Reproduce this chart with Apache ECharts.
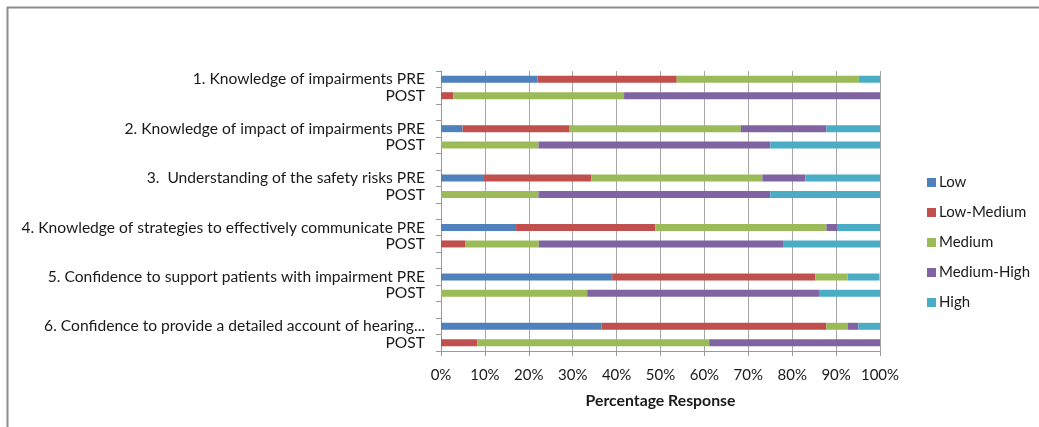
<!DOCTYPE html>
<html>
<head>
<meta charset="utf-8">
<script src="https://cdn.jsdelivr.net/npm/echarts@6/dist/echarts.min.js"></script>
<style>
html,body{margin:0;padding:0;background:#fff;}
#chart{width:1039px;height:427px;}
</style>
</head>
<body>
<div id="chart"></div>
<script>
// Questions (each has a PRE row and a POST row)
const questions = [
  "1. Knowledge of impairments PRE",
  "2. Knowledge of impact of impairments PRE",
  "3.  Understanding of the safety risks PRE",
  "4. Knowledge of strategies to effectively communicate PRE",
  "5. Confidence to support patients with impairment PRE",
  "6. Confidence to provide a detailed account of hearing..."
];
const postLabel = "POST";
const seriesNames = ["Low", "Low-Medium", "Medium", "Medium-High", "High"];
// Values in % for rows: Q1 PRE, Q1 POST, Q2 PRE, Q2 POST, ... Q6 PRE, Q6 POST
const low        = [22.0, 0,    4.9,  0,    9.8,  0,    17.1, 0,    39.0, 0,    36.6, 0];
const lowMedium  = [31.7, 2.8,  24.4, 0,    24.4, 0,    31.7, 5.6,  46.3, 0,    51.2, 8.3];
const medium     = [41.5, 38.9, 39.0, 22.2, 39.0, 22.2, 39.0, 16.7, 7.3,  33.3, 4.9,  52.8];
const mediumHigh = [0,    58.3, 19.5, 52.8, 9.8,  52.8, 2.4,  55.6, 0,    52.8, 2.4,  38.9];
const high       = [4.9,  0,    12.2, 25.0, 17.1, 25.0, 9.8,  22.2, 7.3,  13.9, 4.9,  0];
const xTicks = [0, 10, 20, 30, 40, 50, 60, 70, 80, 90, 100];

const colors = ["#4F81BD", "#C0504D", "#9BBB59", "#8064A2", "#4BACC6"];
const FONT = "Lato";

// Build category list with blank separator rows
const categories = [];
const rowIndex = []; // map from data row index -> category index
questions.forEach((q, i) => {
  if (i > 0) categories.push("");
  rowIndex.push(categories.length); categories.push(q);
  rowIndex.push(categories.length); categories.push(postLabel);
});
function expand(arr) {
  const out = categories.map(() => null);
  arr.forEach((v, i) => { out[rowIndex[i]] = v; });
  return out;
}
const allValues = [low, lowMedium, medium, mediumHigh, high];

const chart = echarts.init(document.getElementById('chart'), null, {renderer: 'canvas'});
chart.setOption({
  animation: false,
  backgroundColor: '#ffffff',
  color: colors,
  textStyle: {fontFamily: FONT},
  grid: {left: 441, right: 159, top: 71, bottom: 76, containLabel: false},
  legend: {
    orient: 'vertical',
    left: 922,
    top: 170,
    itemWidth: 9,
    itemHeight: 9,
    itemGap: 15,
    icon: 'rect',
    data: seriesNames,
    textStyle: {fontFamily: FONT, fontSize: 15, color: '#1a1a1a', padding: [0,0,0,-2]}
  },
  xAxis: {
    type: 'value',
    min: xTicks[0],
    max: xTicks[xTicks.length - 1],
    interval: 10,
    axisLine: {show: true, lineStyle: {color: '#9a9a9a', width: 1}},
    axisTick: {show: true, length: 5, lineStyle: {color: '#9a9a9a'}},
    splitLine: {show: true, lineStyle: {color: '#a6a6a6', width: 1}},
    axisLabel: {formatter: '{value}%', fontFamily: FONT, fontSize: 15, color: '#1a1a1a', margin: 17},
    name: 'Percentage Response',
    nameLocation: 'middle',
    nameGap: 42,
    nameTextStyle: {fontFamily: FONT, fontSize: 15.8, fontWeight: 'bold', color: '#1a1a1a'}
  },
  yAxis: {
    type: 'category',
    inverse: true,
    data: categories,
    axisLine: {show: true, lineStyle: {color: '#9a9a9a', width: 1}},
    axisTick: {show: true, length: 5, lineStyle: {color: '#9a9a9a'}},
    splitLine: {show: false},
    axisLabel: {fontFamily: FONT, fontSize: 15.6, color: '#1a1a1a', margin: 16, interval: 0}
  },
  graphic: [
    {type: 'line', shape: {x1: 7, y1: 7.5, x2: 1039, y2: 7.5}, style: {stroke: '#8c8c8c', lineWidth: 2}},
    {type: 'line', shape: {x1: 7.5, y1: 7, x2: 7.5, y2: 427}, style: {stroke: '#8c8c8c', lineWidth: 2}}
  ],
  series: seriesNames.map((name, i) => ({
    name: name,
    type: 'bar',
    stack: 'total',
    barWidth: 7,
    data: expand(allValues[i])
  }))
});
</script>
</body>
</html>
